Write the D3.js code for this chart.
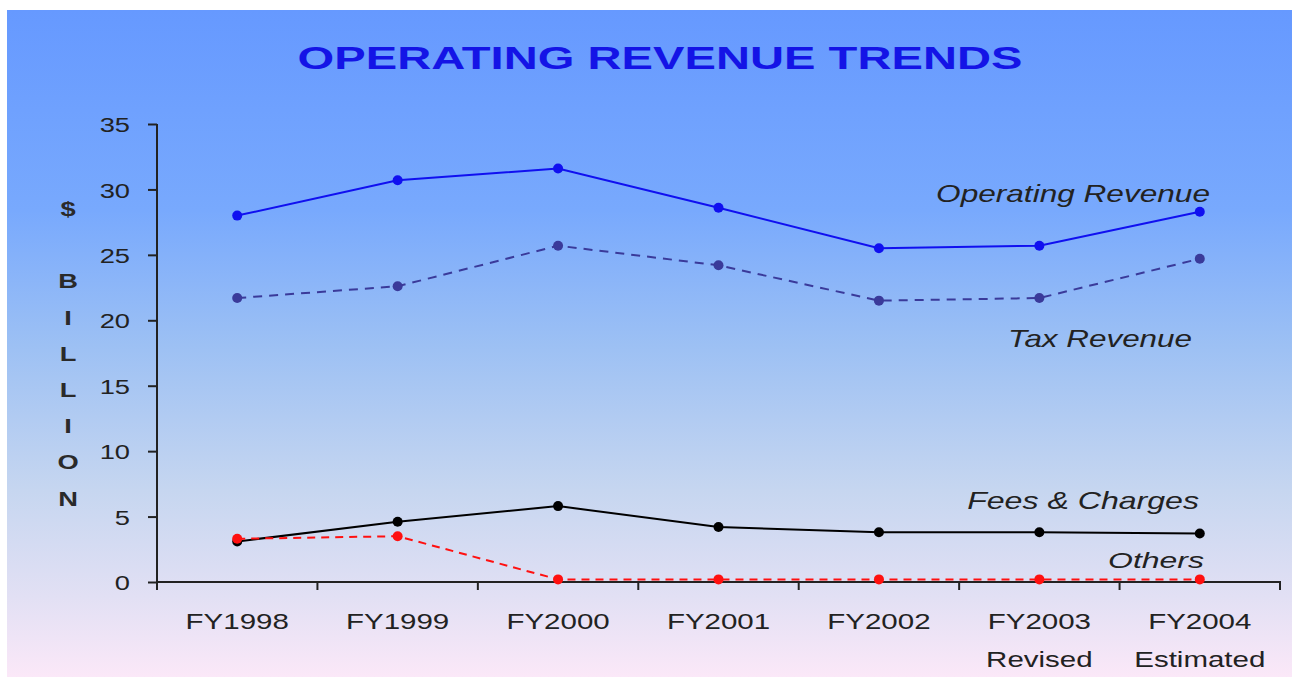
<!DOCTYPE html>
<html>
<head>
<meta charset="utf-8">
<script src="https://cdn.jsdelivr.net/npm/d3@7/dist/d3.min.js"></script>
<style>
  html, body { margin: 0; padding: 0; background: #ffffff; }
  svg { display: block; }
</style>
</head>
<body>
<svg id="chart" width="1292" height="677"></svg>
<script>
// ---- data ----
const categories = ["FY1998", "FY1999", "FY2000", "FY2001", "FY2002", "FY2003", "FY2004"];
const subLabels  = ["", "", "", "", "", "Revised", "Estimated"];
const operatingRevenue = [28.0, 30.7, 31.6, 28.6, 25.5, 25.7, 28.3];
const taxRevenue       = [21.7, 22.6, 25.7, 24.2, 21.5, 21.7, 24.7];
const feesCharges      = [3.1, 4.6, 5.8, 4.2, 3.8, 3.8, 3.7];
const others           = [3.3, 3.5, 0.2, 0.2, 0.2, 0.2, 0.2];
const yTicks = [0, 5, 10, 15, 20, 25, 30, 35];
const seriesNames = ["Operating Revenue", "Tax Revenue", "Fees & Charges", "Others"];
const titleText = "OPERATING REVENUE TRENDS";
const yTitleLetters = ["$", "", "B", "I", "L", "L", "I", "O", "N"];

// ---- layout ----
const svg = d3.select("#chart");
const FONT = "'Liberation Sans', Arial, sans-serif";

// background gradient
const defs = svg.append("defs");
const grad = defs.append("linearGradient").attr("id", "bg")
  .attr("x1", 0).attr("y1", 0).attr("x2", 0).attr("y2", 1);
[[0, "#6699ff"], [0.3, "#78a9fd"], [0.5, "#9cc0f4"], [0.72, "#c6d6f0"], [0.88, "#e2e0f4"], [1, "#fbe8f8"]]
  .forEach(([o, c]) => grad.append("stop").attr("offset", o).attr("stop-color", c));
svg.append("rect").attr("x", 7).attr("y", 10).attr("width", 1285).attr("height", 667)
  .attr("fill", "url(#bg)");

const x = d3.scaleBand().domain(categories).range([157, 1280]).paddingInner(0).paddingOuter(0);
const y = d3.scaleLinear().domain([0, 35]).range([582, 124]);
const cx = c => x(c) + x.bandwidth() / 2;

// text drawn with a horizontal stretch (the original artwork is widened)
function stretchedText(g, px, py, txt, opts) {
  const t = g.append("text")
    .attr("text-anchor", opts.anchor || "middle")
    .attr("font-family", FONT)
    .attr("font-size", opts.size)
    .attr("font-weight", opts.weight || "normal")
    .attr("font-style", opts.style || "normal")
    .attr("fill", opts.fill || "#222")
    .attr("dy", opts.dy || 0)
    .text(txt);
  let sx = opts.sx || 1.4;
  if (opts.width) {
    const w = t.node().getComputedTextLength();
    if (w > 0) sx = opts.width / w;
  }
  t.attr("transform", `translate(${px},${py}) scale(${sx},1)`);
  return sx;
}

// title
stretchedText(svg, 660, 69, titleText, { size: 32, weight: "bold", fill: "#1414e6", width: 725 });

// y axis
const yAxis = d3.axisLeft(y).tickValues(yTicks).tickSize(9).tickPadding(0).tickFormat(d3.format("d"));
const yg = svg.append("g").attr("transform", "translate(157,0)").call(yAxis);
yg.select(".domain").attr("stroke", "#222").attr("stroke-width", 2).attr("d", `M0,${y(35)}V${y(0)}`);
yg.selectAll(".tick line").attr("stroke", "#222").attr("stroke-width", 2);
yg.selectAll(".tick text").remove();
yg.selectAll(".tick").each(function(d) {
  stretchedText(d3.select(this), -27, 0, d, { size: 21, anchor: "end", dy: "0.36em", sx: 1.3 });
});

// y title (stacked letters)
yTitleLetters.forEach((ch, i) => {
  if (ch) stretchedText(svg, 68, 216 + i * 36.2, ch, { size: 21, weight: "bold", fill: "#2a2a2a", sx: 1.3 });
});

// x axis
const xg = svg.append("g");
xg.append("line").attr("x1", 157).attr("x2", 1281).attr("y1", y(0)).attr("y2", y(0))
  .attr("stroke", "#222").attr("stroke-width", 2);
const bounds = categories.map(c => x(c)).concat([x(categories[categories.length - 1]) + x.bandwidth()]);
xg.selectAll("line.tk").data(bounds).join("line").attr("class", "tk")
  .attr("x1", d => d).attr("x2", d => d).attr("y1", y(0)).attr("y2", y(0) + 8)
  .attr("stroke", "#222").attr("stroke-width", 2);
categories.forEach((c, i) => {
  stretchedText(xg, cx(c), 629, c, { size: 22, sx: 1.34 });
  if (subLabels[i]) stretchedText(xg, cx(c), 667, subLabels[i], { size: 22, sx: 1.34 });
});

// series
const series = [
  { name: seriesNames[0], values: operatingRevenue, color: "#1010f0", dash: null },
  { name: seriesNames[1], values: taxRevenue, color: "#3a3a9a", dash: "9,7" },
  { name: seriesNames[2], values: feesCharges, color: "#000000", dash: null },
  { name: seriesNames[3], values: others, color: "#ff1010", dash: "8,6" }
];
const line = d3.line().x((d, i) => cx(categories[i])).y(d => y(d));
series.forEach(s => {
  svg.append("path").datum(s.values).attr("d", line)
    .attr("fill", "none").attr("stroke", s.color).attr("stroke-width", 2)
    .attr("stroke-dasharray", s.dash);
  svg.selectAll(null).data(s.values).join("circle")
    .attr("cx", (d, i) => cx(categories[i])).attr("cy", d => y(d)).attr("r", 5)
    .attr("fill", s.color);
});

// series labels
const lbl = { size: 23, style: "italic", anchor: "end", fill: "#222" };
stretchedText(svg, 1210, 202, seriesNames[0], Object.assign({ width: 274 }, lbl));
stretchedText(svg, 1192, 347, seriesNames[1], Object.assign({ width: 184 }, lbl));
stretchedText(svg, 1199, 509, seriesNames[2], Object.assign({ width: 232 }, lbl));
stretchedText(svg, 1204, 568, seriesNames[3], Object.assign({ width: 96 }, lbl));
</script>
</body>
</html>
